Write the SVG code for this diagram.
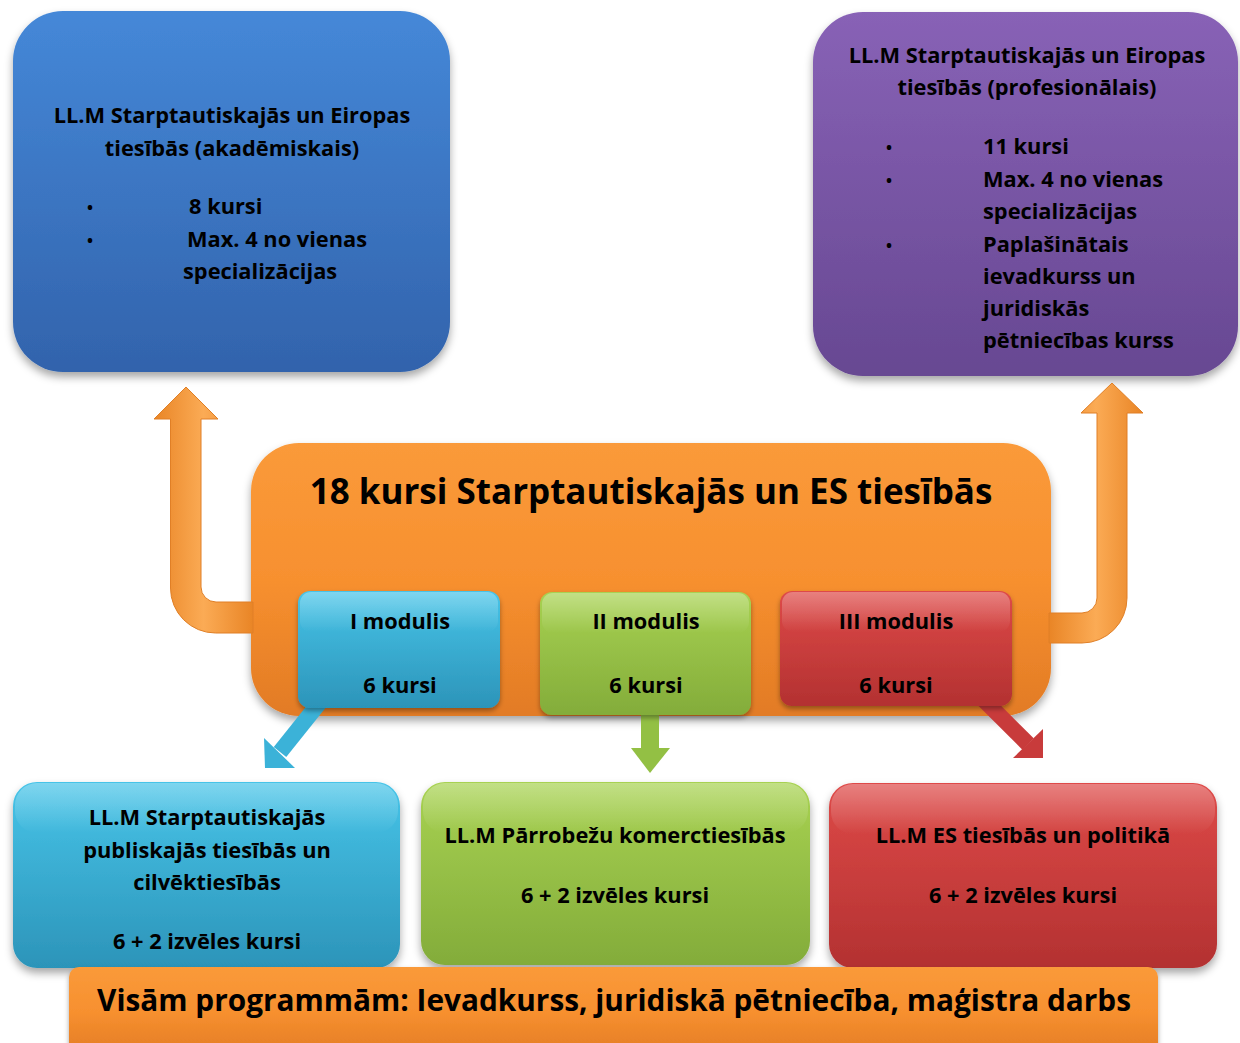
<svg xmlns="http://www.w3.org/2000/svg" width="1240" height="1043" viewBox="0 0 1240 1043">
<defs>
<linearGradient id="gBlue" x1="0" y1="0" x2="0" y2="1"><stop offset="0" stop-color="#4588d8"/><stop offset="1" stop-color="#3263ac"/></linearGradient>
<linearGradient id="gPurple" x1="0" y1="0" x2="0" y2="1"><stop offset="0" stop-color="#8862b6"/><stop offset="1" stop-color="#674892"/></linearGradient>
<linearGradient id="gOrange" x1="0" y1="0" x2="0" y2="1"><stop offset="0" stop-color="#fa9a3a"/><stop offset="0.5" stop-color="#f7902f"/><stop offset="1" stop-color="#e27b25"/></linearGradient>
<linearGradient id="gCyan" x1="0" y1="0" x2="0" y2="1"><stop offset="0" stop-color="#47c4e8"/><stop offset="1" stop-color="#2c94b9"/></linearGradient>
<linearGradient id="gGreen" x1="0" y1="0" x2="0" y2="1"><stop offset="0" stop-color="#a8d252"/><stop offset="1" stop-color="#83ac3a"/></linearGradient>
<linearGradient id="gRed" x1="0" y1="0" x2="0" y2="1"><stop offset="0" stop-color="#de4a48"/><stop offset="1" stop-color="#b33131"/></linearGradient>
<linearGradient id="gArrowV" x1="0" y1="0" x2="1" y2="0"><stop offset="0" stop-color="#e98526"/><stop offset="0.5" stop-color="#fbab55"/><stop offset="1" stop-color="#e98526"/></linearGradient>
<linearGradient id="gGloss" x1="0" y1="0" x2="0" y2="1"><stop offset="0" stop-color="#fff" stop-opacity="0.3"/><stop offset="1" stop-color="#fff" stop-opacity="0"/></linearGradient>
<filter id="sh" x="-10%" y="-10%" width="120%" height="130%"><feDropShadow dx="0" dy="5" stdDeviation="4" flood-color="#000" flood-opacity="0.35"/></filter>
<filter id="shs" x="-20%" y="-20%" width="140%" height="150%"><feDropShadow dx="0" dy="3" stdDeviation="2.5" flood-color="#000" flood-opacity="0.35"/></filter>
</defs>
<style>
text{font-family:"Open Sans",Lato,"Liberation Sans",sans-serif;font-weight:bold;fill:#000;}
.t{font-size:21.8px;}
.b{font-size:16px;}
.c{text-anchor:middle;}
.big{font-size:35px;}
.bar{font-size:29.8px;}
</style>

<g id="node-akademiskais">
<rect x="13" y="11" width="437" height="361" rx="50" fill="url(#gBlue)" filter="url(#sh)"/>
<text class="t c" x="232" y="123">LL.M Starptautiskajās un Eiropas</text>
<text class="t c" x="232" y="156">tiesībās (akadēmiskais)</text>
<text class="b" x="87" y="213">•</text>
<text class="t" x="189" y="214">8 kursi</text>
<text class="b" x="87" y="246">•</text>
<text class="t" x="187" y="247">Max. 4 no vienas</text>
<text class="t" x="183" y="279">specializācijas</text>
</g>

<g id="node-profesionalais">
<rect x="813" y="12" width="425" height="364" rx="50" fill="url(#gPurple)" filter="url(#sh)"/>
<text class="t c" x="1027" y="63">LL.M Starptautiskajās un Eiropas</text>
<text class="t c" x="1027" y="95">tiesībās (profesionālais)</text>
<text class="b" x="886" y="153">•</text>
<text class="t" x="983" y="154">11 kursi</text>
<text class="b" x="886" y="186">•</text>
<text class="t" x="983" y="187">Max. 4 no vienas</text>
<text class="t" x="983" y="219">specializācijas</text>
<text class="b" x="886" y="251">•</text>
<text class="t" x="983" y="252">Paplašinātais</text>
<text class="t" x="983" y="284">ievadkurss un</text>
<text class="t" x="983" y="316">juridiskās</text>
<text class="t" x="983" y="348">pētniecības kurss</text>
</g>

<g id="node-center">
<rect x="251" y="443" width="800" height="273" rx="48" fill="url(#gOrange)" filter="url(#sh)"/>
<text class="big c" x="651" y="504">18 kursi Starptautiskajās un ES tiesībās</text>
</g>

<g id="connectors">
<path d="M253,602 L216,602 A15,15 0 0 1 201,587 L201,419 L218,419 L186,387 L154,419 L170.5,419 L170.5,588 A45,45 0 0 0 215.5,633 L253,633 Z" fill="url(#gArrowV)" stroke="#e07f26" stroke-width="1"/>
<path d="M1049,613 L1082,613 A15,15 0 0 0 1097,598 L1097,413 L1081,413 L1112,383 L1143,413 L1127,413 L1127,598 A45,45 0 0 1 1082,643 L1049,643 Z" fill="url(#gArrowV)" stroke="#e07f26" stroke-width="1"/>
<g fill="#3bb2d8">
<line x1="320" y1="702" x2="280" y2="752" stroke="#3bb2d8" stroke-width="16"/>
<polygon points="265,768 264,738 295,768"/>
</g>
<g fill="#93c044">
<line x1="650" y1="705" x2="650" y2="749" stroke="#93c044" stroke-width="18"/>
<polygon points="631,748 670,748 650,773"/>
</g>
<g fill="#c83b3b">
<line x1="984" y1="700" x2="1028" y2="744" stroke="#c83b3b" stroke-width="16"/>
<polygon points="1043,758 1013,758 1043,729"/>
</g>
</g>

<g id="node-modulis-1">
<rect x="298" y="591" width="202" height="117" rx="12" fill="url(#gCyan)" filter="url(#shs)"/>
<rect x="300" y="592" width="198" height="40" rx="11" fill="url(#gGloss)"/>
<text class="t c" x="400" y="629">I modulis</text>
<text class="t c" x="400" y="693">6 kursi</text>
</g>
<g id="node-modulis-2">
<rect x="540" y="592" width="211" height="123" rx="12" fill="url(#gGreen)" filter="url(#shs)"/>
<rect x="542" y="593" width="207" height="40" rx="11" fill="url(#gGloss)"/>
<text class="t c" x="646" y="629">II modulis</text>
<text class="t c" x="646" y="693">6 kursi</text>
</g>
<g id="node-modulis-3">
<rect x="780" y="591" width="232" height="115" rx="12" fill="url(#gRed)" filter="url(#shs)"/>
<rect x="782" y="592" width="228" height="40" rx="11" fill="url(#gGloss)"/>
<text class="t c" x="896" y="629">III modulis</text>
<text class="t c" x="896" y="693">6 kursi</text>
</g>

<g id="node-publiskajas">
<rect x="13" y="782" width="387" height="186" rx="24" fill="url(#gCyan)" filter="url(#sh)"/>
<rect x="15" y="783" width="383" height="50" rx="22" fill="url(#gGloss)"/>
<text class="t c" x="207" y="825">LL.M Starptautiskajās</text>
<text class="t c" x="207" y="858">publiskajās tiesībās un</text>
<text class="t c" x="207" y="890">cilvēktiesībās</text>
<text class="t c" x="207" y="949">6 + 2 izvēles kursi</text>
</g>

<g id="node-komerctiesibas">
<rect x="421" y="782" width="389" height="183" rx="24" fill="url(#gGreen)" filter="url(#sh)"/>
<rect x="423" y="783" width="385" height="50" rx="22" fill="url(#gGloss)"/>
<text class="t c" x="615" y="843">LL.M Pārrobežu komerctiesībās</text>
<text class="t c" x="615" y="903">6 + 2 izvēles kursi</text>
</g>

<g id="node-politika">
<rect x="829" y="783" width="388" height="185" rx="24" fill="url(#gRed)" filter="url(#sh)"/>
<rect x="831" y="784" width="384" height="50" rx="22" fill="url(#gGloss)"/>
<text class="t c" x="1023" y="843">LL.M ES tiesībās un politikā</text>
<text class="t c" x="1023" y="903">6 + 2 izvēles kursi</text>
</g>

<g id="node-visam">
<rect x="69" y="967" width="1089" height="90" rx="10" fill="url(#gOrange)" filter="url(#shs)"/>
<text class="bar c" x="614" y="1011">Visām programmām: Ievadkurss, juridiskā pētniecība, maģistra darbs</text>
</g>
</svg>
